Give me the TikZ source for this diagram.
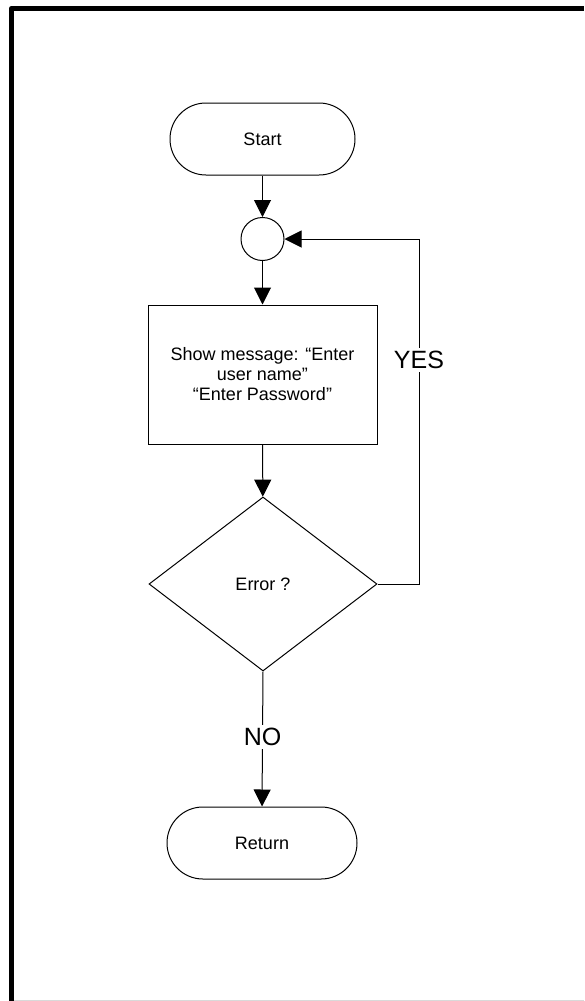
\documentclass[tikz,border=0pt]{standalone}
\usepackage{fontspec}
\setmainfont{Liberation Sans}
\usetikzlibrary{arrows.meta,shapes.geometric}
\begin{document}
\begin{tikzpicture}[x=1pt,y=-1pt,
  every node/.style={font=\fontsize{18}{20}\selectfont},
  shapeline/.style={draw=black,line width=1pt},
  terminal/.style={shapeline,rectangle,rounded corners=35.9pt,minimum height=72pt,inner sep=0pt},
  procbox/.style={shapeline,rectangle,minimum width=229pt,minimum height=139pt,align=center,inner sep=0pt},
  decision/.style={shapeline,diamond,minimum width=228pt,minimum height=174pt,inner sep=0pt},
  joint/.style={shapeline,circle,minimum size=43pt,inner sep=0pt},
  flow/.style={line width=1pt,black,-{Triangle[length=17pt,width=17pt]}},
  biglabel/.style={font=\fontsize{25}{28}\selectfont,fill=white,inner sep=3pt}]
\useasboundingbox (0,0) rectangle (584,1001);
% frame
\draw[line width=5.5pt,line join=round] (11.5,1001) -- (11.5,8.5) -- (584,8.5);
\draw[black!15,line width=1pt] (14,1000.5) -- (584,1000.5);
% nodes
\node[terminal,minimum width=185pt] (start) at (262.5,139) {Start};
\node[joint] (join) at (262.5,239) {};
\node[procbox] (show) at (262.5,374.5) {Show message: “Enter\\user name”\\“Enter Password”};
\node[decision] (err) at (263,584) {Error ?};
\node[terminal,minimum width=190pt] (ret) at (262,843) {Return};
\coordinate (c1) at (419,584);
\coordinate (c2) at (419,239);
% connectors
\draw[flow] (err.east) -- (c1) -- node[biglabel,pos=0.649]{YES} (c2) -- (join.east);
\draw[flow] (start) -- (join);
\draw[flow] (join) -- (show);
\draw[flow] (show) -- (err);
\draw[flow] (err.south) -- node[biglabel,pos=0.486]{NO} (ret.north);
\end{tikzpicture}
\end{document}
